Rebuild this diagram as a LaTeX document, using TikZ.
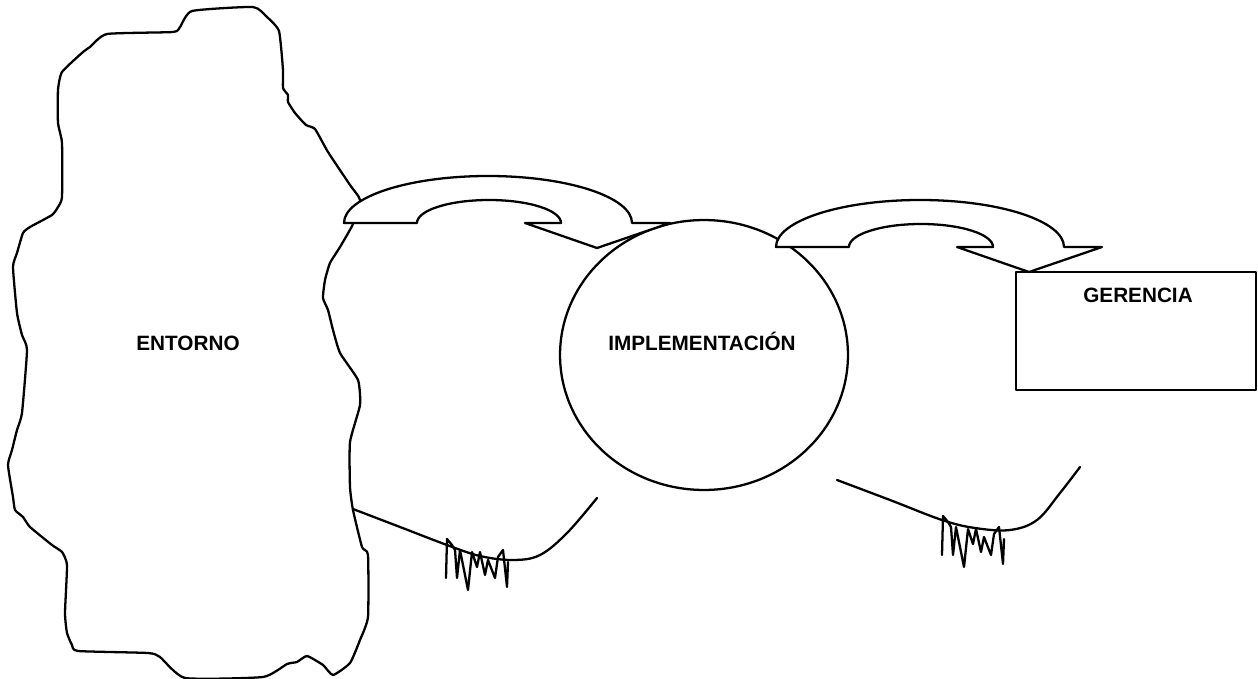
\documentclass[tikz,border=0pt]{standalone}
\usepackage{fontspec}
\setmainfont{Liberation Sans}
\usetikzlibrary{shapes.geometric}

\begin{document}
\begin{tikzpicture}[x=0.02cm, y=-0.02cm, line width=1.3pt, line join=round, font=\fontsize{11.8}{14}\selectfont\bfseries]
  \tikzset{tag/.style={inner sep=0pt, anchor=base},blob/.style={draw, ellipse, minimum width=5.76cm, minimum height=5.4cm},box/.style={draw, rectangle, minimum width=4.8cm, minimum height=2.36cm},turn/.style={draw, fill=white},trace/.style={line cap=round}}
  \useasboundingbox (0,0) rectangle (1258,679);
  % environment outline
  \draw plot[smooth cycle, tension=0.3] coordinates {(192,11) (253,7) (267,17) (279,31) (283,70) (283,88) (288,95) (288,102) (295,113) (306,125) (315,129) (328,152) (350,185) (360,200) (353,224) (340,247) (330,263) (325,280) (323,298) (328,310) (333,330) (340,353) (358,380) (360,405) (350,442) (350,487) (353,510) (362,547) (368,555) (368,617) (360,640) (350,663) (333,675) (323,665) (307,656) (297,662) (287,664) (263,677) (185,678) (160,657) (148,653) (78,651) (72,645) (67,633) (65,613) (67,565) (62,552) (52,545) (30,527) (23,517) (15,510) (13,497) (8,465) (12,450) (17,430) (22,413) (27,350) (22,335) (17,313) (13,267) (17,253) (23,233) (30,227) (52,215) (58,207) (62,197) (62,143) (58,123) (58,90) (62,72) (83,52) (90,47) (107,34) (173,32) (180,27)};
  \node[tag] (entorno) at (188,350) {ENTORNO};
  \node[blob] (impl) at (704,355) {};
  \node[tag] (impltxt) at (702,350) {IMPLEMENTACIÓN};
  \node[box] (ger) at (1136,331) {};
  \node[tag] (gertxt) at (1138,302) {GERENCIA};
  % curved arrows
  \foreach \bx/\by in {344/223, 776/247}
    \draw[turn, shift={(\bx,\by)}] (0,0) -- (73,0) arc[start angle=180, end angle=360, x radius=72, y radius=23] -- (181,0) -- (253,25) -- (326,0) -- (288,0) arc[start angle=0, end angle=-180, x radius=144, y radius=47] -- cycle;
  % ground lines with scribbles
  \draw[trace] plot[smooth, tension=0.6] coordinates {(353,509) (400,527) (447,545) (480,556) (513,560) (540,555) (567,533) (597,498)};
  \draw[trace] plot[smooth, tension=0.6] coordinates {(837,480) (890,500) (942,520) (975,528) (1010,530) (1037,520) (1060,493) (1080,467)};
  \foreach \sx/\sy in {0/0, 496/-23}
    \draw[trace, shift={(\sx,\sy)}] (446,578) -- (447,539) -- (452,545) -- (455,550) -- (457,578) -- (460,550) -- (468,590) -- (472,552) -- (477,567) -- (480,552) -- (485,575) -- (488,560) -- (495,578) -- (498,557) -- (503,550) -- (507,587) -- (508,562);
\end{tikzpicture}
\end{document}
